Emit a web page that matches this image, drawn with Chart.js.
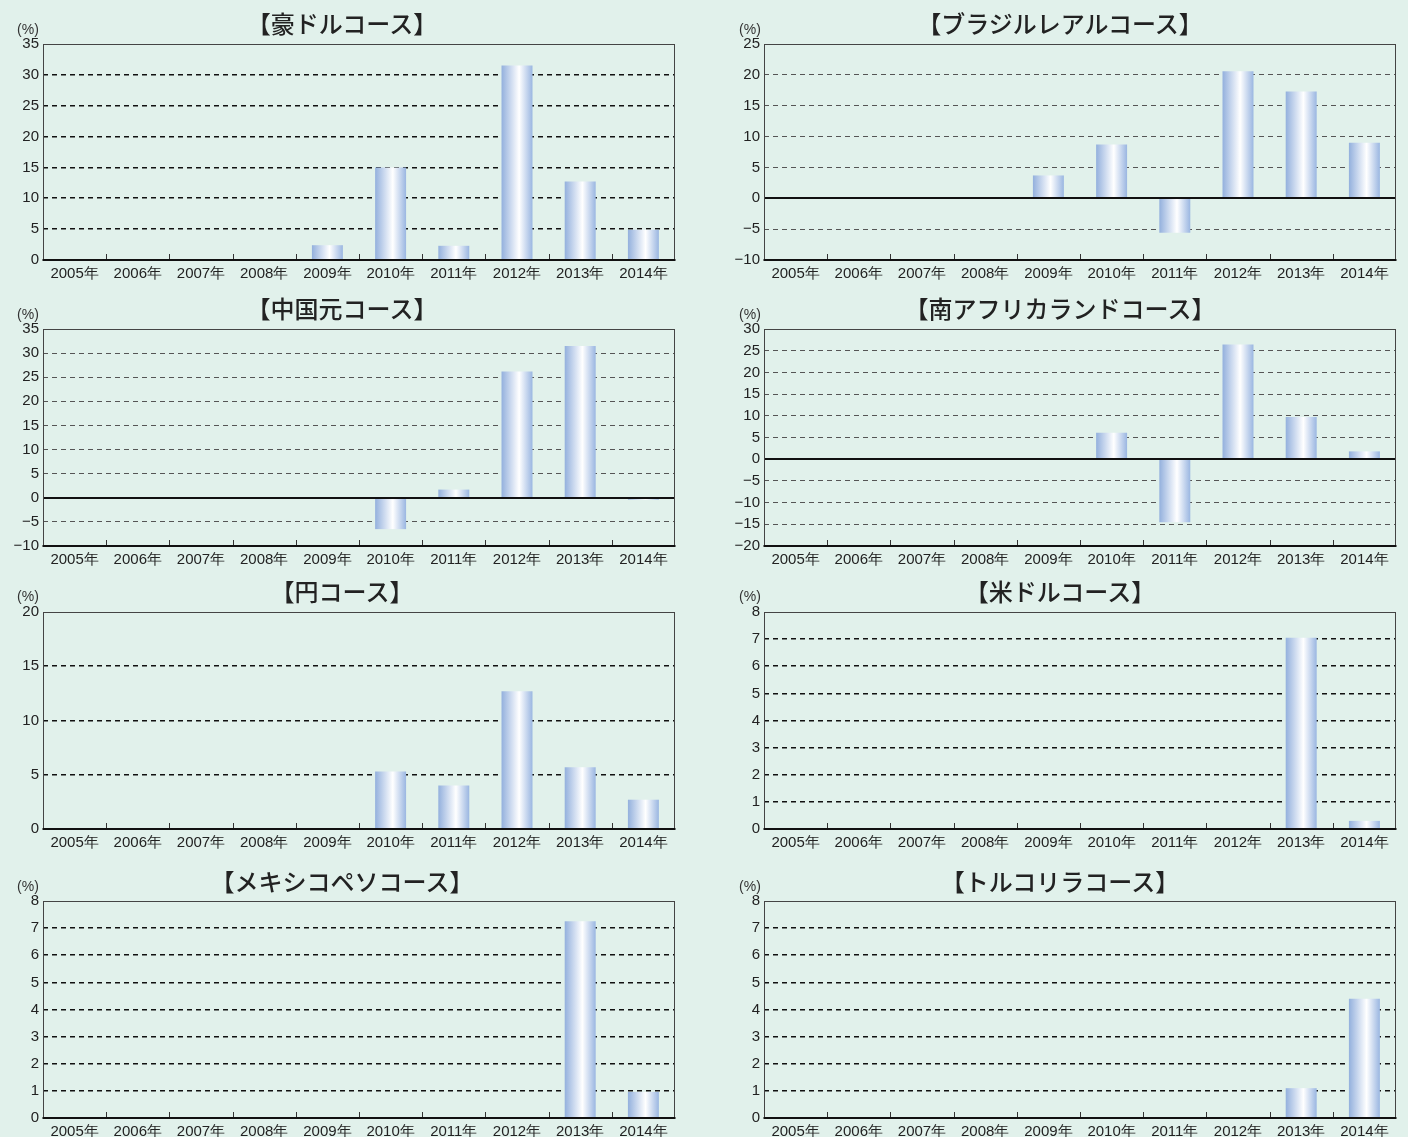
<!DOCTYPE html>
<html><head><meta charset="utf-8">
<script src="https://cdn.jsdelivr.net/npm/chart.js@4.4.1/dist/chart.umd.min.js"></script>
<style>
html,body{margin:0;padding:0;background:#e1f1eb;width:1408px;height:1137px;overflow:hidden;}
.panel{position:absolute;}
.title{position:absolute;font-family:'Noto Sans CJK JP','Noto Sans',sans-serif;font-size:24px;font-weight:500;color:#222;white-space:nowrap;transform:translate(-50%,-50%);}
.unit{position:absolute;font-family:'Liberation Sans',Arial,sans-serif;font-size:14px;color:#333;transform:translate(-50%,-50%);}
</style></head><body>
<script>
// ---- data ----
const years = ['2005年','2006年','2007年','2008年','2009年','2010年','2011年','2012年','2013年','2014年'];
const titles = ['【豪ドルコース】','【ブラジルレアルコース】','【中国元コース】','【南アフリカランドコース】','【円コース】','【米ドルコース】','【メキシコペソコース】','【トルコリラコース】'];
const audValues = [null,null,null,null,2.4,15.0,2.3,31.5,12.7,4.9];
const brlValues = [null,null,null,null,3.7,8.7,-5.6,20.6,17.3,9.0];
const cnyValues = [null,null,null,null,null,-6.5,1.7,26.2,31.5,-0.4];
const zarValues = [null,null,null,null,null,6.1,-14.5,26.4,9.7,1.8];
const jpyValues = [null,null,null,null,null,5.3,4.0,12.7,5.7,2.7];
const usdValues = [null,null,null,null,null,null,null,null,7.05,0.3];
const mxnValues = [null,null,null,null,null,null,null,null,7.25,0.96];
const tryValues = [null,null,null,null,null,null,null,null,1.1,4.4];
const yMins  = [0,-10,-10,-20,0,0,0,0];
const yMaxs  = [35,25,35,30,20,8,8,8];
const ySteps = [5,5,5,5,5,1,1,1];
const unitLabel = '(%)';

const seriesList = [audValues,brlValues,cnyValues,zarValues,jpyValues,usdValues,mxnValues,tryValues];

// ---- layout / styles ----
const rowPlot = [[44,260],[329,546],[612,829],[901,1118]];
const titleY = [22,307,590,880];
const unitY = [29,314,596,886];
const cols = [{left:0,yw:43,padR:29,titleX:342,unitX:28},{left:704,yw:60,padR:12,titleX:1060,unitX:750}];
const boldGrid = [true,false,false,false,true,true,true,true];

const framePlugin = {
  id:'frame',
  afterDatasetsDraw(chart){
    const {ctx, chartArea:a, scales:{x,y}} = chart;
    ctx.save();
    if (y.min < 0){
      const zy = Math.round(y.getPixelForValue(0));
      ctx.strokeStyle='#111'; ctx.lineWidth=2;
      ctx.beginPath(); ctx.moveTo(a.left,zy); ctx.lineTo(a.right,zy); ctx.stroke();
    }
    ctx.strokeStyle='#444'; ctx.lineWidth=1;
    ctx.strokeRect(Math.round(a.left)+0.5, Math.round(a.top)+0.5, Math.round(a.width)-1, Math.round(a.height)-1);
    ctx.strokeStyle='#333'; ctx.lineWidth=1;
    const n = x.ticks.length;
    for (let i=1;i<n;i++){
      const bx = Math.round((x.getPixelForValue(i-1)+x.getPixelForValue(i))/2)+0.5;
      ctx.beginPath(); ctx.moveTo(bx,a.bottom); ctx.lineTo(bx,a.bottom-6); ctx.stroke();
    }
    ctx.strokeStyle='#111'; ctx.lineWidth=2;
    ctx.beginPath(); ctx.moveTo(a.left-0.5,Math.round(a.bottom)); ctx.lineTo(a.right+0.5,Math.round(a.bottom)); ctx.stroke();
    ctx.restore();
  }
};

function barFill(c){
  const chart = c.chart; const xs = chart.scales && chart.scales.x;
  if (!xs || c.dataIndex === undefined || !chart.chartArea) return '#a9c0e4';
  const cx = xs.getPixelForValue(c.dataIndex);
  const w = (xs.width / years.length) * 0.49;
  const g = chart.ctx.createLinearGradient(cx - w/2, 0, cx + w/2, 0);
  g.addColorStop(0,'#93b0dd');
  g.addColorStop(0.57,'#ffffff');
  g.addColorStop(1,'#9ab6e1');
  return g;
}

const tickFont = {family:"'Liberation Sans', Arial, sans-serif", size:15};

for (let i=0;i<8;i++){
  const row = Math.floor(i/2), col = cols[i%2];
  const [pt,pb] = rowPlot[row];
  const padTop = 14, xh = 22;
  const top = pt - padTop;
  const h = (pb - pt) + padTop + xh;
  const div = document.createElement('div');
  div.className='panel';
  div.style.left = col.left+'px'; div.style.top = top+'px';
  div.style.width='704px'; div.style.height=h+'px';
  const cv = document.createElement('canvas');
  cv.width=704; cv.height=h;
  cv.style.width='704px'; cv.style.height=h+'px';
  div.appendChild(cv); document.body.appendChild(div);

  const t = document.createElement('div'); t.className='title'; t.textContent=titles[i];
  t.style.left=col.titleX+'px'; t.style.top=titleY[row]+'px'; document.body.appendChild(t);
  const u = document.createElement('div'); u.className='unit'; u.textContent=unitLabel;
  u.style.left=col.unitX+'px'; u.style.top=unitY[row]+'px'; document.body.appendChild(u);

  const bold = boldGrid[i];
  const yMin = yMins[i], yMax = yMaxs[i];
  new Chart(cv, {
    type:'bar',
    data:{labels:years, datasets:[{data:seriesList[i], backgroundColor:barFill, borderWidth:0, barPercentage:0.49, categoryPercentage:1}]},
    options:{
      responsive:false, animation:false, devicePixelRatio:1,
      layout:{padding:{top:padTop,left:0,right:col.padR,bottom:0}},
      plugins:{legend:{display:false},tooltip:{enabled:false},title:{display:false}},
      scales:{
        x:{
          type:'category', offset:true,
          grid:{display:false, drawTicks:false},
          border:{display:false},
          ticks:{font:tickFont, color:'#222', padding:5, maxRotation:0, autoSkip:false},
          afterFit:(s)=>{ s.height = xh; }
        },
        y:{
          min:yMin, max:yMax,
          grid:{drawTicks:false, lineWidth: bold?1.6:1,
            color:(c)=>{ const v=c.tick&&c.tick.value; if (v===yMin||v===yMax||v===0) return 'rgba(0,0,0,0)'; return bold?'#111':'#555'; }},
          border:{display:false, dash:[5,4]},
          ticks:{stepSize:ySteps[i], font:tickFont, color:'#222', padding:4,
            callback:(v)=> v<0 ? '\u2212'+Math.abs(v) : String(v)},
          afterFit:(s)=>{ s.width = col.yw; }
        }
      }
    },
    plugins:[framePlugin]
  });
}
</script>
</body></html>
